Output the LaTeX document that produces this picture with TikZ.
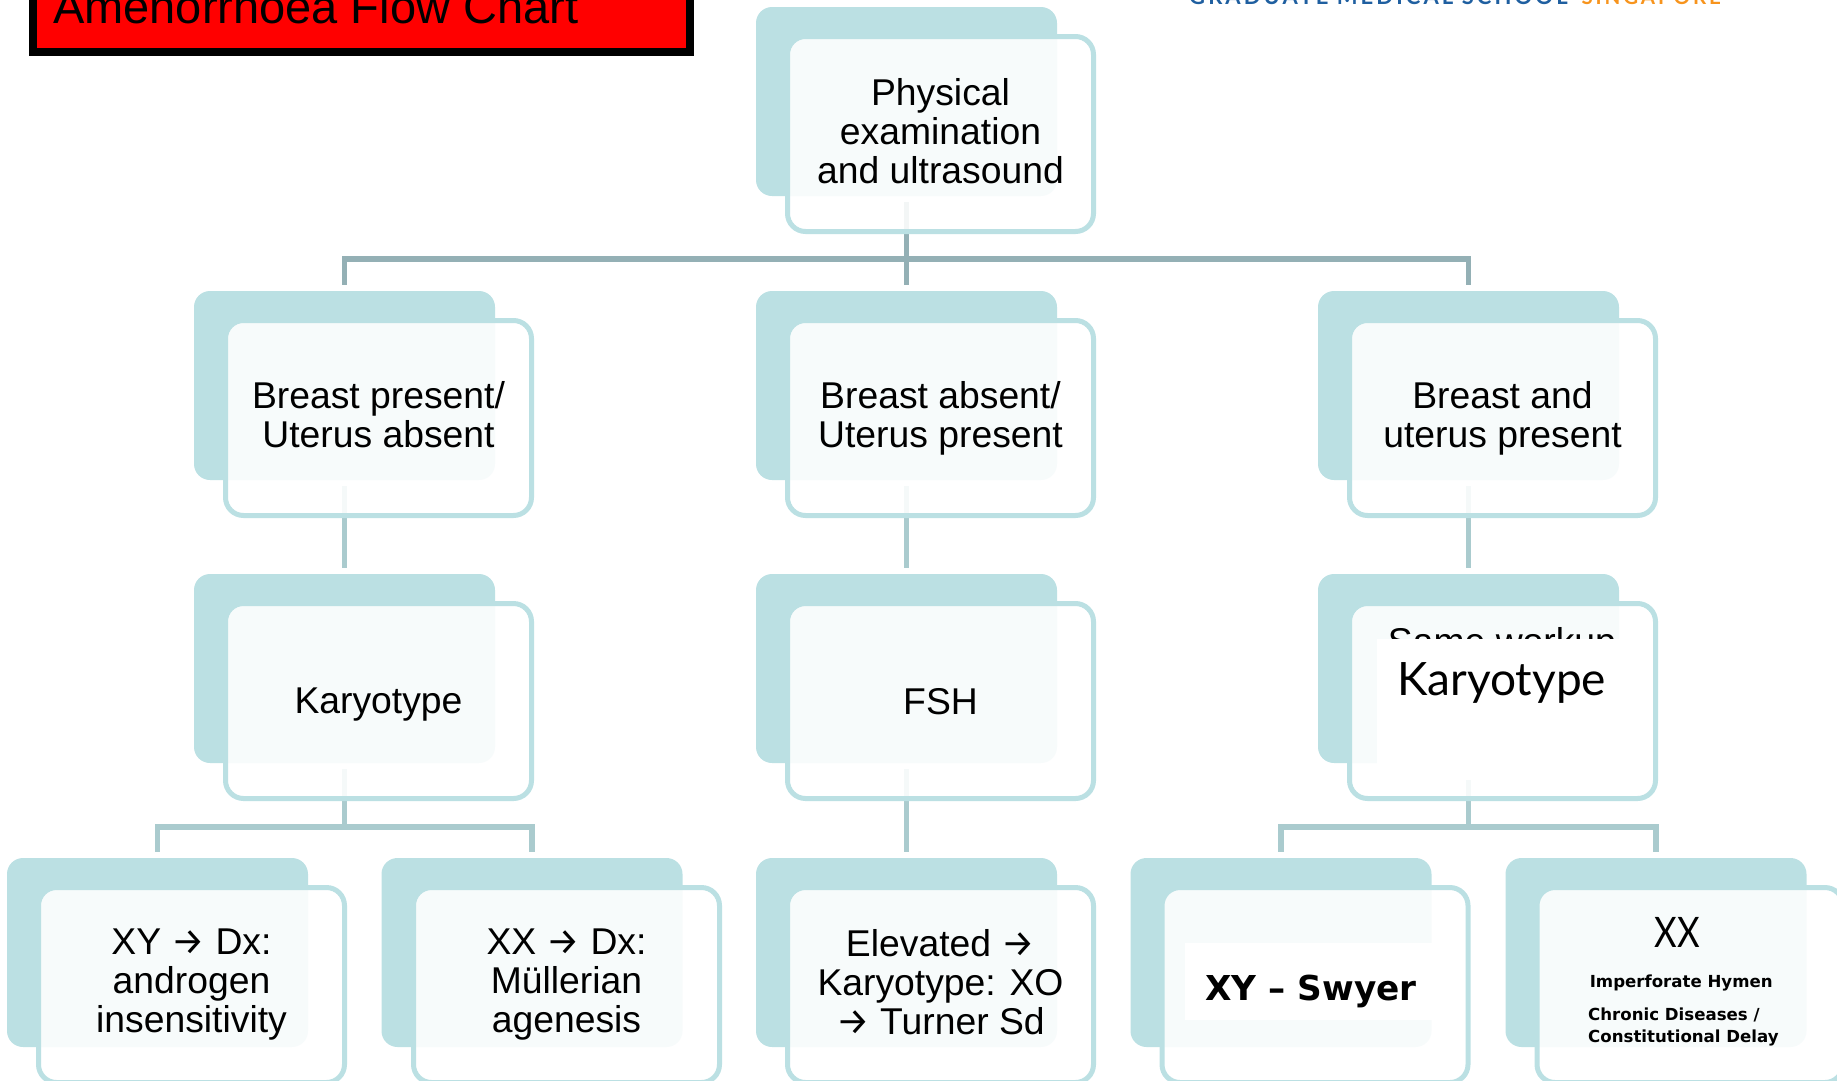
\documentclass[tikz,border=0pt]{standalone}
\usepackage{fontspec}
\usetikzlibrary{backgrounds}
\setmainfont{Liberation Sans}
\newfontfamily\logofam[LetterSpace=14]{Lato}
\newfontfamily\lightfam{Lato}
\newfontfamily\narrowfam[FakeStretch=0.83]{Lato}
\newfontfamily\widefam{DejaVu Sans}
\newfontfamily\arrowfam{Fira Sans}
\newcommand{\fbody}    {\fontsize{37.3pt}{39pt}\selectfont}
\newcommand{\ftitle}   {\fontsize{47pt}{50pt}\selectfont}
\newcommand{\fsmall}   {\widefam\bfseries\fontsize{16.6pt}{22pt}\selectfont}
\newcommand{\arw}      {{\arrowfam →}}
\newcommand{\lnstrut}  {\rule[-6.5pt]{0pt}{39pt}}
\definecolor{boxteal}{HTML}{BBE0E3}
\definecolor{busdark}{HTML}{94B0B5}
\definecolor{buslight}{HTML}{AACBCE}
\definecolor{logoblue}{HTML}{1F5FA0}
\definecolor{logoorange}{HTML}{F7941D}
\tikzset{
   backbox/.style={fill=boxteal,rounded corners=16pt,minimum width=301pt,minimum height=189pt,inner sep=0pt,outer sep=0pt},
   frontbox/.style={draw=boxteal,line width=5pt,fill=white,fill opacity=0.89,text opacity=1,rounded corners=18pt,
      minimum width=306pt,minimum height=195pt,inner sep=0pt,outer sep=0pt,align=center,font=\fbody,
      execute at begin node=\lnstrut,execute at end node=\lnstrut},
   topbus/.style={draw=busdark,line width=5.5pt,shorten <=6pt,shorten >=6pt},
   lowbus/.style={draw=buslight,line width=5.5pt,shorten <=6pt,shorten >=6pt}
}

\begin{document}
\begin{tikzpicture}[x=1pt,y=-1pt]
   \useasboundingbox (0,0) rectangle (1837,1080);

   \draw[draw=black,fill=red,line width=8pt] (33,-30) rectangle (689.5,52);
   \node[anchor=base west,inner sep=0pt,font=\ftitle] (title) at (53,23) {Amenorrhoea Flow Chart};
   \node[anchor=base west,inner sep=0pt,text=logoblue,font=\logofam\bfseries\fontsize{22pt}{24pt}\selectfont] (logoleft) at (1189,4.5) {GRADUATE MEDICAL SCHOOL};
   \node[anchor=base west,inner sep=0pt,text=logoorange,font=\logofam\bfseries\fontsize{20.5pt}{24pt}\selectfont] (logoright) at (1581.4,4.5) {SINGAPORE};

   \node[backbox] (examback)  at (906.5,101.5) {};
   \node[frontbox] (exam)     at (940.5,134) {Physical\\examination\\and ultrasound};

   \node[backbox] (presentback) at (344.5,385.5) {};
   \node[frontbox] (present)    at (378.5,418) {Breast present/\\Uterus absent};
   \node[backbox] (absentback)  at (906.5,385.5) {};
   \node[frontbox] (absent)     at (940.5,418) {Breast absent/\\Uterus present};
   \node[backbox] (bothback)    at (1468.5,385.5) {};
   \node[frontbox] (both)       at (1502.5,418) {Breast and\\uterus present};

   \node[backbox] (karyback)  at (344.5,668.5) {};
   \node[frontbox] (kary)     at (378.5,701) {Karyotype};
   \node[backbox] (fshback)   at (906.5,668.5) {};
   \node[frontbox] (fsh)      at (940.5,701) {FSH};
   \node[backbox] (sameback)  at (1468.5,668.5) {};
   \node[frontbox] (same)     at (1502.5,701) {};

   \node[backbox] (xyback)     at (157.5,952.5) {};
   \node[frontbox] (xy)        at (191.5,985) {XY \arw\ Dx:\\androgen\\insensitivity};
   \node[backbox] (xxback)     at (532,952.5) {};
   \node[frontbox] (xx)        at (566.5,985) {XX \arw\ Dx:\\Müllerian\\agenesis};
   \node[backbox] (elevback)   at (906.5,952.5) {};
   \node[frontbox] (elev)      at (940.5,985) {Elevated \arw\\Karyotype: XO\\\arw\ Turner Sd};
   \node[backbox] (swyerback)  at (1281,952.5) {};
   \node[frontbox] (swyer)     at (1315,985) {};
   \node[backbox] (hymenback)  at (1656,952.5) {};
   \node[frontbox] (hymen)     at (1690,985) {};

   \begin{scope}[on background layer]
      \draw[topbus] (examback.south) -- (absentback.north);
      \draw[topbus] (examback.south) -- ++(0,63) -| (presentback.north);
      \draw[topbus] (examback.south) -- ++(0,63) -| (bothback.north);
      \draw[lowbus] (presentback.south) -- (karyback.north);
      \draw[lowbus] (absentback.south) -- (fshback.north);
      \draw[lowbus] (bothback.south) -- (sameback.north);
      \draw[lowbus] (karyback.south) -- ++(0,64) -| (xyback.north);
      \draw[lowbus] (karyback.south) -- ++(0,64) -| (xxback.north);
      \draw[lowbus] (fshback.south) -- (elevback.north);
      \draw[lowbus] (sameback.south) -- ++(0,64) -| (swyerback.north);
      \draw[lowbus] (sameback.south) -- ++(0,64) -| (hymenback.north);
   \end{scope}

   \node[anchor=base,inner sep=0pt,font=\fbody] (sameold) at (1502,654) {Same workup};
   \fill[white] (1377,639) rectangle (1640,780);
   \node[anchor=base,inner sep=0pt,font=\lightfam\fontsize{46pt}{50pt}\selectfont] (samekary) at (1501.5,695) {Karyotype};

   \fill[white] (1185,943) rectangle (1440,1020);
   \node[anchor=base,inner sep=0pt,font=\widefam\bfseries\fontsize{34.3pt}{38pt}\selectfont] (swyertext) at (1311,1000) {XY – Swyer};

   \node[anchor=base,inner sep=0pt,font=\narrowfam\fontsize{42pt}{44pt}\selectfont] (hymenxx) at (1677,947) {XX};
   \node[anchor=base west,inner sep=0pt,font=\fsmall] (hymenone) at (1589.6,987) {Imperforate Hymen};
   \node[anchor=base west,inner sep=0pt,font=\fsmall] (hymentwo) at (1588,1020) {Chronic Diseases /};
   \node[anchor=base west,inner sep=0pt,font=\fsmall] (hymenthree) at (1588,1042) {Constitutional Delay};
\end{tikzpicture}
\end{document}
